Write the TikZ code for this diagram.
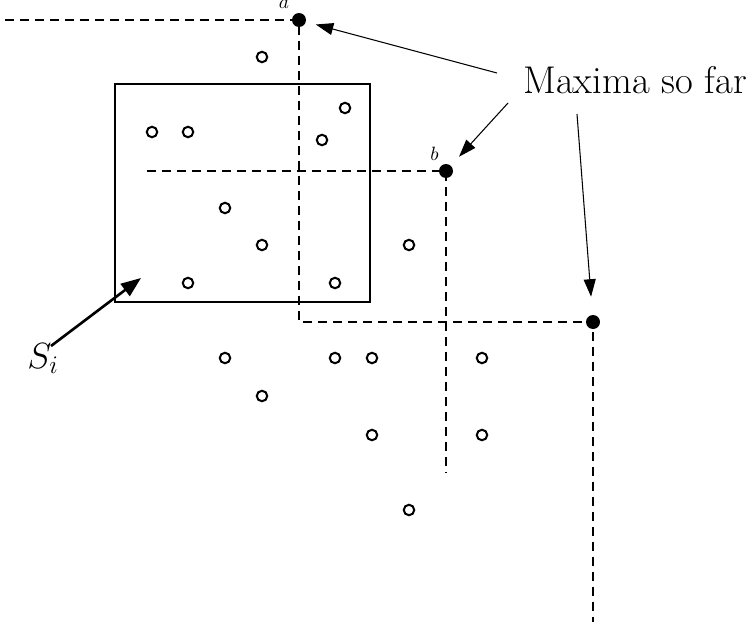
\documentclass[tikz,border=0pt]{standalone}
\usetikzlibrary{arrows.meta,backgrounds}
\begin{document}
\begin{tikzpicture}[x=0.02cm,y=-0.02cm,
  pt/.style={circle,draw,line width=1.15pt,minimum size=0.21cm,inner sep=0pt},
  maxpt/.style={circle,fill,minimum size=0.28cm,inner sep=0pt},
  stair/.style={line width=1.6pt,dash pattern=on 0.18cm off 0.12cm},
  pointer/.style={line width=0.6pt,-{Triangle[length=0.35cm,width=0.24cm]}},
  small/.style={font=\fontsize{11}{13}\selectfont},
  big/.style={font=\fontsize{22}{26}\selectfont}]
\useasboundingbox (0,0) rectangle (751,632);

% the set S_i
\node[draw,line width=1.5pt,minimum width=5.1cm,minimum height=4.36cm,inner sep=0pt] (box) at (242.5,193) {};

% maxima found so far
\node[maxpt] (a) at (299,20) {};
\node[maxpt] (b) at (446,171) {};
\node[maxpt] (c) at (593,322) {};
\node[small,anchor=base] (alab) at (284,9) {$a$};
\node[small,anchor=base] (blab) at (434.5,160) {$b$};

% remaining points
\foreach \n/\x/\y in {p1/262/57, p2/152/132, p3/188/132, p4/345/108, p5/322/140,
  p6/225/208, p7/262/245, p8/409/245, p9/188/283, p10/335/283,
  p11/225/358, p12/335/358, p13/372/358, p14/482/358, p15/262/396,
  p16/372/435, p17/482/435, p18/409/510}
  \node[pt] (\n) at (\x,\y) {};

% dominance staircases
\coordinate (aw) at (5,20);
\coordinate (cs) at (593,622);
\coordinate (bw) at (147,171);
\coordinate (bs) at (446,472);
\begin{scope}[on background layer]
  \draw[stair] (aw) -- (a.center) -- (a.center |- c.center) -- (c.center) -- (cs);
  \draw[stair] (bw) -- (b.center) -- (bs);
\end{scope}

% caption with pointers
\node[big,anchor=base] (maxlbl) at (635,93) {Maxima so far};
\coordinate (m1) at (497,73);
\coordinate (m2) at (508,103);
\coordinate (m3) at (577,114);
\draw[pointer,shorten >=0.2cm] (m1) -- (a);
\draw[pointer,shorten >=0.24cm] (m2) -- (b);
\draw[pointer,shorten >=0.36cm] (m3) -- (c);

% label of the box
\node[big,anchor=base] (si) at (43,368) {$S_i$};
\coordinate (sitail) at (51,346);
\coordinate (sitip) at (141,278);
\draw[line width=1.5pt,-{Triangle[length=0.4cm,width=0.3cm]}] (sitail) -- (sitip);
\end{tikzpicture}
\end{document}
